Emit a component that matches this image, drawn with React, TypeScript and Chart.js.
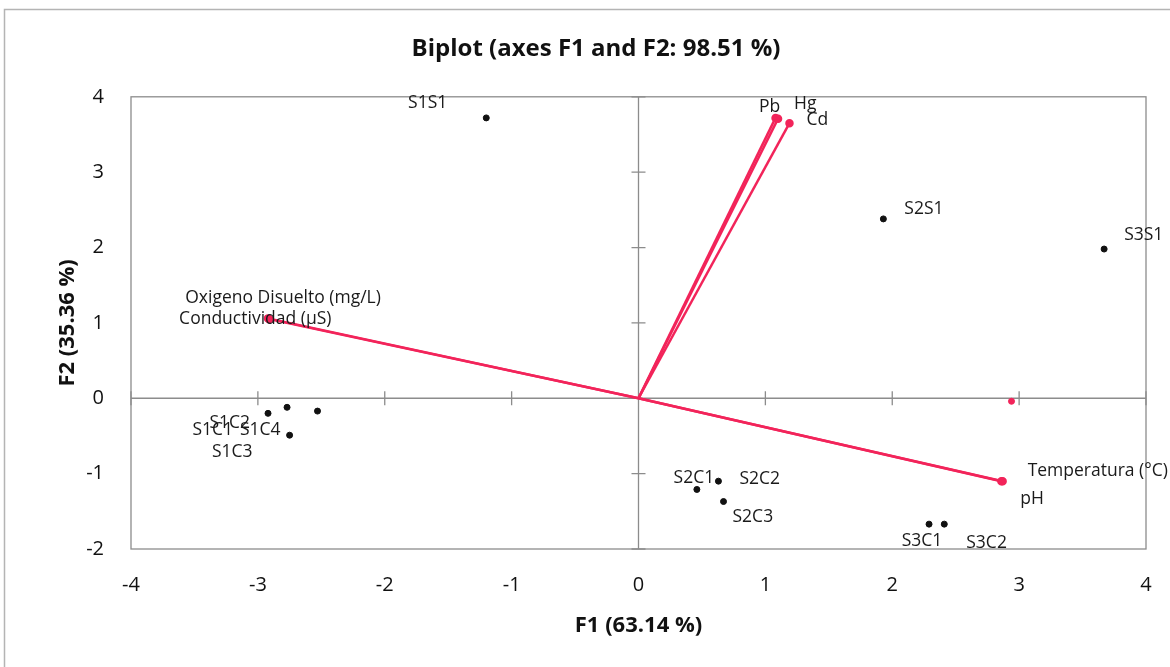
import React, { useEffect, useRef } from "react";
import { Chart, registerables } from "chart.js";

Chart.register(...registerables);

// ---------- data ----------
const obsNames = ["S1S1", "S1C1", "S1C2", "S1C3", "S1C4", "S2S1", "S2C1", "S2C2", "S2C3", "S3S1", "S3C1", "S3C2"];
const obsF1 = [-1.2, -2.92, -2.77, -2.75, -2.53, 1.93, 0.46, 0.63, 0.67, 3.67, 2.29, 2.41];
const obsF2 = [3.72, -0.2, -0.12, -0.49, -0.17, 2.38, -1.21, -1.1, -1.37, 1.98, -1.67, -1.67];

const varNames = ["Pb", "Hg", "Cd", "Oxigeno Disuelto (mg/L)", "Conductividad (µS)", "Temperatura (°C)", "pH"];
const varF1 = [1.08, 1.1, 1.19, -2.92, -2.91, 2.87, 2.86];
const varF2 = [3.72, 3.71, 3.65, 1.06, 1.05, -1.1, -1.1];

const suppF1 = [2.94];
const suppF2 = [-0.04];

const xTickValues = [-4, -3, -2, -1, 0, 1, 2, 3, 4];
const yTickValues = [-2, -1, 0, 1, 2, 3, 4];

const titleText = "Biplot (axes F1 and F2: 98.51 %)";
const xTitle = "F1 (63.14 %)";
const yTitle = "F2 (35.36 %)";

// ---------- label placement (pixels relative to the mark) ----------
const labelPlacement: Record<string, [number, number, CanvasTextAlign]> = {
  S1S1: [-39, -15, "right"],
  S1C1: [-35, 17, "right"],
  S1C2: [-37, 16, "right"],
  S1C3: [-37, 17, "right"],
  S1C4: [-37, 19, "right"],
  S2S1: [21, -10, "left"],
  S2C1: [-3, -11, "center"],
  S2C2: [21, -2, "left"],
  S2C3: [9, 15, "left"],
  S3S1: [20, -14, "left"],
  S3C1: [-7, 17, "center"],
  S3C2: [22, 19, "left"],
  Pb: [-6, -11, "center"],
  Hg: [16, -15, "left"],
  Cd: [17, -3, "left"],
  "Oxigeno Disuelto (mg/L)": [15, -20, "center"],
  "Conductividad (µS)": [-14, 0, "center"],
  "Temperatura (°C)": [25, -10, "left"],
  pH: [19, 18, "left"],
};

const RED = "#f2245a";
const GREY = "#8c8c8c";
const FONT = "'Open Sans', 'Liberation Sans', sans-serif";

const framePlugin = {
  id: "frame",
  beforeDraw(chart: any) {
    const { ctx, width, height } = chart;
    ctx.save();
    ctx.fillStyle = "#ffffff";
    ctx.fillRect(0, 0, width, height);
    ctx.strokeStyle = "#b4b4b4";
    ctx.lineWidth = 1.5;
    ctx.strokeRect(4.5, 9.5, width + 40, height + 40);
    ctx.restore();
  },
  beforeDatasetsDraw(chart: any) {
    const { ctx, chartArea: a, scales } = chart;
    const x = scales.x;
    const y = scales.y;
    ctx.save();
    ctx.strokeStyle = GREY;
    ctx.lineWidth = 1.3;
    ctx.strokeRect(a.left, a.top, a.right - a.left, a.bottom - a.top);
    const x0 = x.getPixelForValue(0);
    const y0 = y.getPixelForValue(0);
    ctx.beginPath();
    ctx.moveTo(a.left, y0);
    ctx.lineTo(a.right, y0);
    ctx.moveTo(x0, a.top);
    ctx.lineTo(x0, a.bottom);
    xTickValues.forEach((v) => {
      const px = x.getPixelForValue(v);
      ctx.moveTo(px, y0 - 7);
      ctx.lineTo(px, y0 + 7);
    });
    yTickValues.forEach((v) => {
      const py = y.getPixelForValue(v);
      ctx.moveTo(x0 - 7, py);
      ctx.lineTo(x0 + 7, py);
    });
    ctx.stroke();
    ctx.restore();
  },
  afterDatasetsDraw(chart: any) {
    const { ctx, scales } = chart;
    const x = scales.x;
    const y = scales.y;
    ctx.save();
    ctx.font = `17.5px ${FONT}`;
    ctx.fillStyle = "#1a1a1a";
    ctx.textBaseline = "middle";
    const put = (name: string, vx: number, vy: number) => {
      const p = labelPlacement[name] || [8, -10, "left"];
      ctx.textAlign = p[2];
      ctx.fillText(name, x.getPixelForValue(vx) + p[0], y.getPixelForValue(vy) + p[1]);
    };
    obsNames.forEach((n, i) => put(n, obsF1[i], obsF2[i]));
    varNames.forEach((n, i) => put(n, varF1[i], varF2[i]));
    ctx.restore();
  },
};

export default function App() {
  const ref = useRef<HTMLCanvasElement>(null);

  useEffect(() => {
    if (!ref.current) return;
    const vectorSets = varNames.map((n, i) => ({
      type: "scatter" as const,
      label: n,
      data: [
        { x: 0, y: 0 },
        { x: varF1[i], y: varF2[i] },
      ],
      showLine: true,
      borderColor: RED,
      borderWidth: 2.5,
      pointRadius: [0, 3],
      pointBackgroundColor: RED,
      pointBorderColor: RED,
    }));
    const chart = new Chart(ref.current, {
      type: "scatter",
      data: {
        datasets: [
          ...vectorSets,
          {
            label: "Observations",
            data: obsNames.map((_, i) => ({ x: obsF1[i], y: obsF2[i] })),
            pointRadius: 3,
            pointBackgroundColor: "#111",
            pointBorderColor: "#111",
          },
          {
            label: "Supplementary",
            data: suppF1.map((v, i) => ({ x: v, y: suppF2[i] })),
            pointRadius: 3,
            pointBackgroundColor: RED,
            pointBorderColor: RED,
          },
        ],
      },
      options: {
        responsive: false,
        animation: false,
        layout: { padding: { top: 8, right: 24, bottom: 0, left: 46 } },
        plugins: {
          legend: { display: false },
          tooltip: { enabled: false },
          title: {
            display: true,
            text: titleText,
            color: "#111",
            font: { family: FONT, size: 24, weight: "bold", lineHeight: 1.2 },
            padding: { top: 27, bottom: 33 },
          },
        },
        scales: {
          x: {
            type: "linear",
            min: -4,
            max: 4,
            afterBuildTicks: (s: any) => {
              s.ticks = xTickValues.map((v) => ({ value: v }));
            },
            afterFit: (s: any) => {
              s.height = 118;
              s.paddingLeft = 0;
              s.paddingRight = 0;
            },
            grid: { display: false, drawTicks: false },
            border: { display: false },
            ticks: { color: "#111", font: { family: FONT, size: 20 }, padding: 24 },
            title: {
              display: true,
              text: xTitle,
              color: "#111",
              font: { family: FONT, size: 22, weight: "bold", lineHeight: 1.2 },
              padding: { top: 0, bottom: 28 },
            },
          },
          y: {
            type: "linear",
            min: -2,
            max: 4,
            afterBuildTicks: (s: any) => {
              s.ticks = yTickValues.map((v) => ({ value: v }));
            },
            afterFit: (s: any) => {
              s.width = 85;
              s.paddingTop = 0;
              s.paddingBottom = 0;
            },
            grid: { display: false, drawTicks: false },
            border: { display: false },
            ticks: { color: "#111", font: { family: FONT, size: 20 }, padding: 27 },
            title: {
              display: true,
              text: yTitle,
              color: "#111",
              font: { family: FONT, size: 22, weight: "bold", lineHeight: 1.2 },
              padding: { top: 9, bottom: 0 },
            },
          },
        },
      },
      plugins: [framePlugin],
    } as any);
    return () => chart.destroy();
  }, []);

  return (
    <div style={{ position: "absolute", left: 0, top: 0, width: 1170, height: 667, background: "#fff" }}>
      <canvas ref={ref} width={1170} height={667} style={{ display: "block" }} />
    </div>
  );
}
